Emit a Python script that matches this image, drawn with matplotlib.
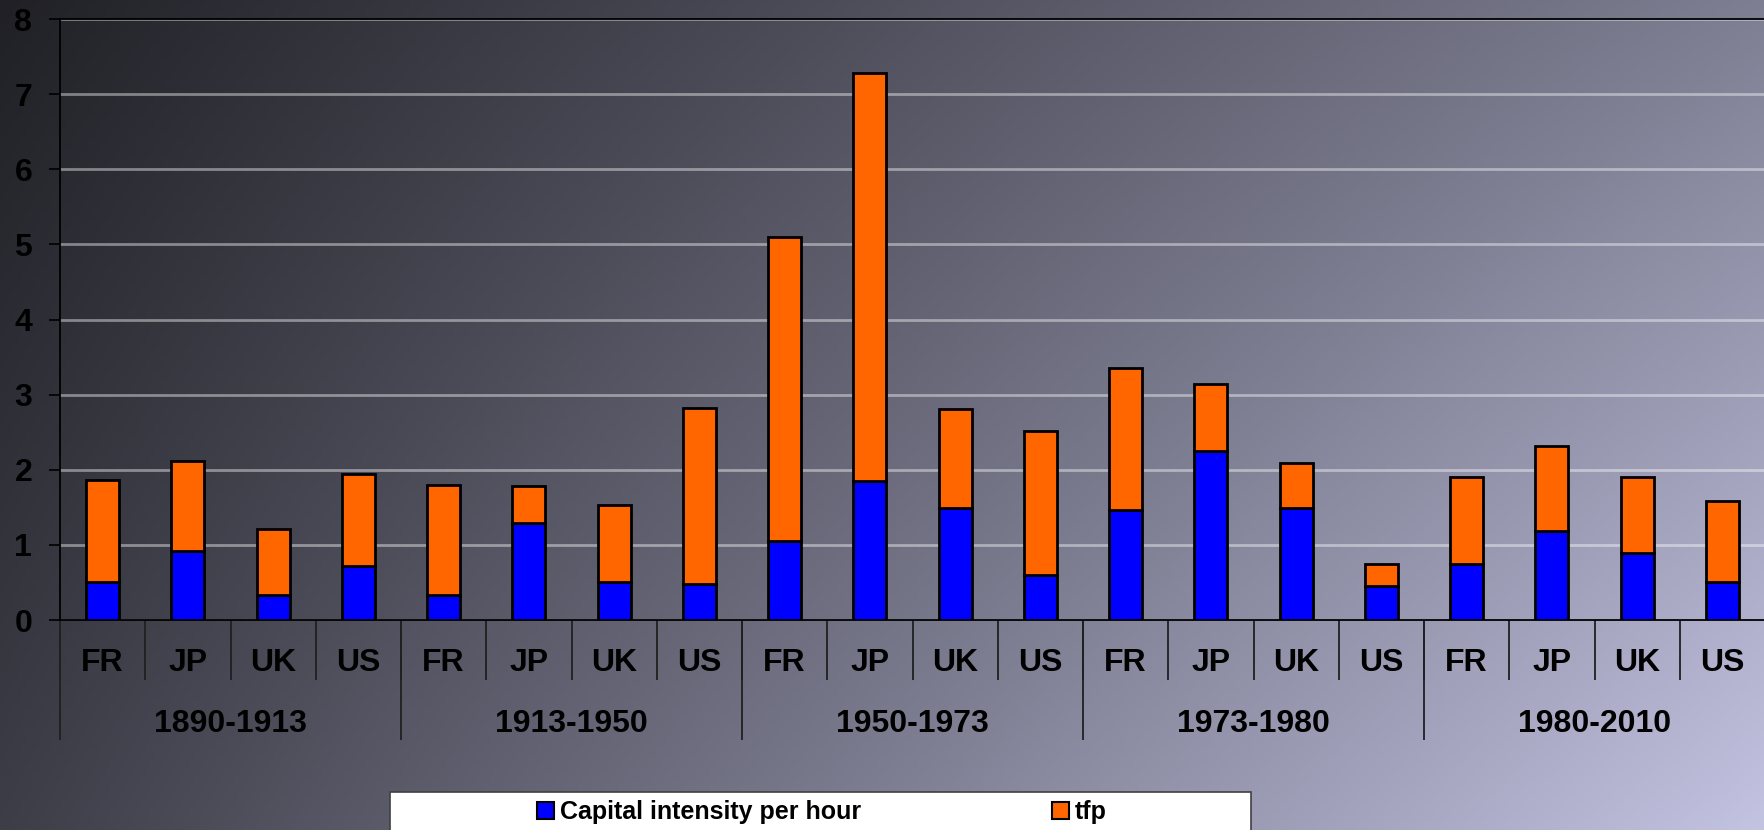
import numpy as np
import matplotlib.pyplot as plt
from matplotlib.patches import Rectangle

periods = ['1890-1913', '1913-1950', '1950-1973', '1973-1980', '1980-2010']
countries = ['FR', 'JP', 'UK', 'US']

# capital intensity part and total height per bar
capital = [0.51, 0.92, 0.33, 0.72,
           0.33, 1.29, 0.50, 0.48,
           1.05, 1.85, 1.49, 0.60,
           1.46, 2.25, 1.49, 0.45,
           0.74, 1.19, 0.89, 0.51]
total = [1.87, 2.11, 1.21, 1.94,
         1.80, 1.78, 1.53, 2.82,
         5.10, 7.28, 2.81, 2.52,
         3.36, 3.14, 2.09, 0.75,
         1.91, 2.31, 1.91, 1.58]
tfp = [t - c for t, c in zip(total, capital)]

labels = countries * len(periods)
x = np.arange(len(labels))

W, H = 1765, 830
fig = plt.figure(figsize=(W / 100, H / 100), dpi=100)

# diagonal dark-to-lavender background
gx, gy = np.meshgrid(np.linspace(0, 1, 400), np.linspace(0, 1, 200))
t = 0.58 * gx + 0.18 * gy + 0.24 * gx * gy
c0 = np.array([32, 32, 38]) / 255
c1 = np.array([195, 195, 226]) / 255
grad = c0 + (c1 - c0) * t[..., None]
bg = fig.add_axes([0, 0, 1, 1], zorder=-10)
bg.imshow(grad, aspect='auto', extent=[0, 1, 0, 1], origin='upper')
bg.axis('off')

ax = fig.add_axes([60 / W, 1 - 620 / H, 1 - 60 / W, (620 - 19) / H])
ax.set_facecolor('none')

ax.bar(x, capital, width=0.39, color='#0000FF', edgecolor='black', linewidth=2,
       label='Capital intensity per hour', zorder=3)
ax.bar(x, tfp, width=0.39, bottom=capital, color='#FF6600', edgecolor='black',
       linewidth=2, label='tfp', zorder=3)

ax.set_xlim(-0.5, len(labels) - 0.5)
ax.set_ylim(0, 8)
ax.set_yticks(range(0, 9))
ax.yaxis.grid(True, color='white', alpha=0.42, linewidth=2, zorder=1)
ax.tick_params(axis='y', length=8, width=1.2, pad=12, labelsize=23, colors='black')
for lab in ax.get_yticklabels():
    lab.set_fontweight('bold')
    lab.set_family('Liberation Sans')

ax.set_xticks(x)
ax.set_xticklabels(labels, fontsize=23, fontweight='bold', family='Liberation Sans')
ax.tick_params(axis='x', length=0, pad=20)

ax.spines['right'].set_visible(False)
for s in ['left', 'bottom', 'top']:
    ax.spines[s].set_color('black')
    ax.spines[s].set_linewidth(1.3)

# separators for the two-level category axis
axh = 620 - 19
tr = ax.get_xaxis_transform()
bounds = np.arange(len(labels) + 1) - 0.5
ax.vlines(bounds, -60 / axh, 0, transform=tr, color='#202020', linewidth=1.3, clip_on=False)
pbounds = np.arange(0, len(labels) + 1, len(countries)) - 0.5
ax.vlines(pbounds, -120 / axh, 0, transform=tr, color='#202020', linewidth=1.3, clip_on=False)
for i, p in enumerate(periods):
    ax.text(i * len(countries) + 1.5, -104 / axh, p, transform=tr, ha='center', va='center',
            fontsize=23, fontweight='bold', family='Liberation Sans')

# legend box running off the bottom edge
fig.patches.append(Rectangle((390 / W, -0.05), (1251 - 390) / W, 0.05 + 1 - 792 / H,
                             transform=fig.transFigure, facecolor='white',
                             edgecolor='#404040', linewidth=1.2, zorder=5))
leg = fig.legend(loc='center', bbox_to_anchor=(822 / W, 1 - 812 / H), ncol=2,
                 frameon=False, handlelength=0.68, handleheight=0.68, handletextpad=0.25,
                 columnspacing=7.6,
                 prop={'family': 'Liberation Sans', 'weight': 'bold', 'size': 18})
leg.set_zorder(6)
for h in leg.legend_handles:
    h.set_linewidth(1.5)

fig.savefig('out.png', dpi=100)
